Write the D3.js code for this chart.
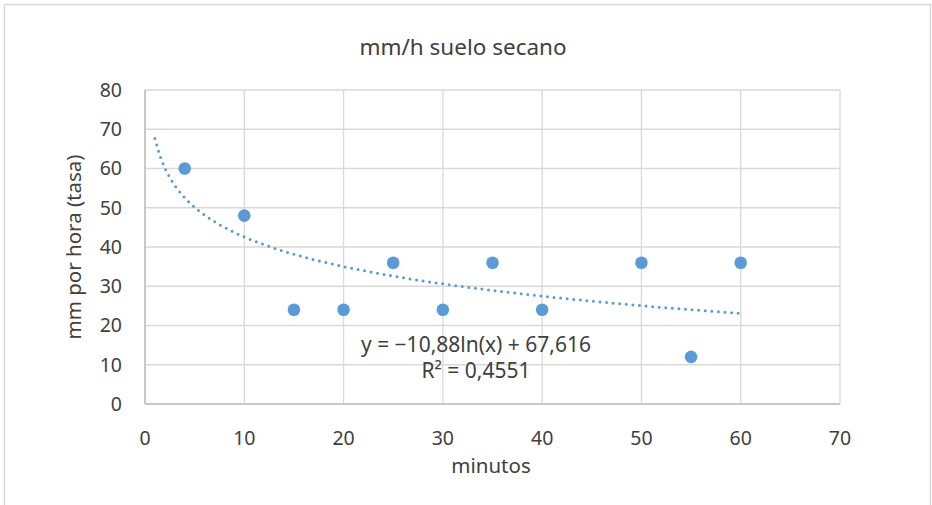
<!DOCTYPE html>
<html>
<head>
<meta charset="utf-8">
<script src="https://cdn.jsdelivr.net/npm/d3@7"></script>
<style>
  body { margin: 0; background: #fff; }
  text { font-family: "Noto Sans", sans-serif; fill: #404040; }
</style>
</head>
<body>
<div id="chart"></div>
<script>
// data
const minutos = [4, 10, 15, 20, 25, 30, 35, 40, 50, 55, 60];
const tasa = [60, 48, 24, 24, 36, 24, 36, 24, 36, 12, 36];
const xTicks = [0, 10, 20, 30, 40, 50, 60, 70];
const yTicks = [0, 10, 20, 30, 40, 50, 60, 70, 80];
const trendLabel = ["y = \u221210,88ln(x) + 67,616", "R\u00b2 = 0,4551"];

const W = 932, H = 505;
const margin = { top: 90, right: 92, bottom: 101, left: 145 };
const width = W - margin.left - margin.right;
const height = H - margin.top - margin.bottom;

const svg = d3.select("#chart").append("svg")
    .attr("width", W)
    .attr("height", H);

// outer chart frame
svg.append("rect")
    .attr("x", 4.5).attr("y", 4.5)
    .attr("width", 926).attr("height", 510)
    .style("fill", "none")
    .style("stroke", "#d9d9d9")
    .style("stroke-width", 1.5);

const g = svg.append("g")
    .attr("transform", `translate(${margin.left},${margin.top})`);

const x = d3.scaleLinear().domain([0, 70]).range([0, width]);
const y = d3.scaleLinear().domain([0, 80]).range([height, 0]);

// gridlines
g.selectAll(".hgrid").data(yTicks).join("line")
    .attr("x1", 0).attr("x2", width)
    .attr("y1", d => y(d)).attr("y2", d => y(d))
    .style("stroke", "#d9d9d9").style("stroke-width", 1.3);

g.selectAll(".vgrid").data(xTicks).join("line")
    .attr("x1", d => x(d)).attr("x2", d => x(d))
    .attr("y1", 0).attr("y2", height)
    .style("stroke", "#d9d9d9").style("stroke-width", 1.3);

// axis lines
g.append("line").attr("x1", 0).attr("x2", 0).attr("y1", 0).attr("y2", height)
    .style("stroke", "#bfbfbf").style("stroke-width", 1.5);
g.append("line").attr("x1", 0).attr("x2", width).attr("y1", height).attr("y2", height)
    .style("stroke", "#bfbfbf").style("stroke-width", 1.5);

// tick labels
g.selectAll(".ylab").data(yTicks).join("text")
    .attr("x", -23).attr("y", d => y(d))
    .attr("dy", "0.35em")
    .style("text-anchor", "end")
    .style("font-size", "19.5px")
    .text(d => d);

g.selectAll(".xlab").data(xTicks).join("text")
    .attr("x", d => x(d)).attr("y", height + 34)
    .attr("dy", "0.35em")
    .style("text-anchor", "middle")
    .style("font-size", "19.5px")
    .text(d => d);

// logarithmic trendline, least squares on ln(x)
const lx = minutos.map(Math.log);
const mx = d3.mean(lx), my = d3.mean(tasa);
const slope = d3.sum(lx, (v, i) => (v - mx) * (tasa[i] - my)) / d3.sum(lx, v => (v - mx) ** 2);
const intercept = my - slope * mx;
const trendX = d3.range(1, 60.01, 0.5);

g.append("path")
    .datum(trendX)
    .attr("d", d3.line().x(d => x(d)).y(d => y(slope * Math.log(d) + intercept)))
    .style("fill", "none")
    .style("stroke", "#5b9bd5")
    .style("stroke-width", 3)
    .style("stroke-linecap", "round")
    .style("stroke-dasharray", "0 6.6");

// points
g.selectAll(".pt").data(minutos).join("circle")
    .attr("cx", d => x(d))
    .attr("cy", (d, i) => y(tasa[i]))
    .attr("r", 6.3)
    .style("fill", "#5b9bd5");

// trendline label
g.selectAll(".eq").data(trendLabel).join("text")
    .attr("x", 331)
    .attr("y", (d, i) => 262 + i * 26)
    .style("text-anchor", "middle")
    .style("font-size", "21px")
    .text(d => d);

// titles
svg.append("text")
    .attr("x", 463).attr("y", 47)
    .attr("dy", "0.35em")
    .style("text-anchor", "middle")
    .style("font-size", "22.5px")
    .text("mm/h suelo secano");

svg.append("text")
    .attr("x", 491).attr("y", 466)
    .attr("dy", "0.35em")
    .style("text-anchor", "middle")
    .style("font-size", "20.5px")
    .text("minutos");

svg.append("text")
    .attr("transform", `translate(74,${margin.top + height / 2}) rotate(-90)`)
    .attr("dy", "0.35em")
    .style("text-anchor", "middle")
    .style("font-size", "20.5px")
    .text("mm por hora (tasa)");
</script>
</body>
</html>
